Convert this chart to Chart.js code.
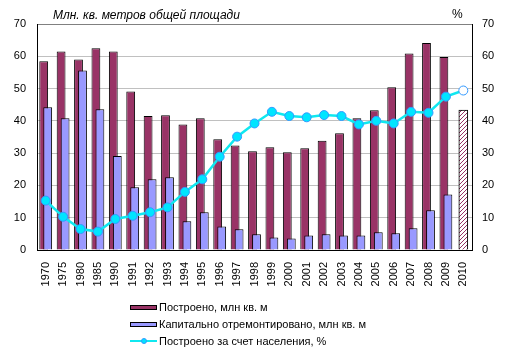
<!DOCTYPE html>
<html>
<head>
<meta charset="utf-8">
<script src="https://cdn.jsdelivr.net/npm/chart.js@4/dist/chart.umd.min.js"></script>
<style>
  html, body { margin: 0; padding: 0; background: #fff; }
  #wrap { position: relative; width: 513px; height: 361px; font-family: "Liberation Sans", Arial, sans-serif; }
  canvas { position: absolute; left: 0; top: 0; }
  .lg { position: absolute; left: 130px; height: 14px; display: flex; align-items: center; font-size: 11px; color: #000; white-space: nowrap; }
  .sw { width: 25px; height: 3px; border: 1px solid #000; margin-right: 2px; }
  .ln { position: relative; width: 27px; height: 14px; margin-right: 2px; }
  .ln i { position: absolute; left: 0; top: 6px; width: 27px; height: 2px; background: #10E8F0; }
  .ln b { position: absolute; left: 11px; top: 4px; width: 4px; height: 4px; border: 1px solid #3399FF; border-radius: 50%; background: #00E5FF; }
</style>
</head>
<body>
<div id="wrap">
  <canvas id="c" width="513" height="361"></canvas>
  <div class="lg" style="top:300px"><span class="sw" style="background:#993366"></span>Построено, млн кв. м</div>
  <div class="lg" style="top:317px"><span class="sw" style="background:#9999FF"></span>Капитально отремонтировано, млн кв. м</div>
  <div class="lg" style="top:334px"><span class="ln"><i></i><b></b></span>Построено за счет населения, %</div>
</div>
<script>
const years = ['1970','1975','1980','1985','1990','1991','1992','1993','1994','1995','1996','1997','1998','1999','2000','2001','2002','2003','2004','2005','2006','2007','2008','2009','2010'];
const built = [58.5,61.5,59.0,62.5,61.5,49.1,41.5,41.7,38.9,40.8,34.3,32.4,30.6,31.8,30.3,31.5,33.8,36.2,40.8,43.3,50.4,60.9,64.1,59.8,null];
const repaired = [44.2,40.8,55.6,43.6,29.1,19.4,21.9,22.5,8.9,11.7,7.3,6.4,4.9,3.9,3.6,4.5,4.9,4.5,4.5,5.5,5.2,6.7,12.3,17.2,null];
const privateShare = [15.3,10.3,6.5,5.7,9.6,10.6,11.7,13.2,18.0,21.9,28.9,35.1,39.2,42.8,41.5,41.1,41.8,41.5,38.9,40.0,39.2,42.8,42.5,47.5,49.4];
const builtForecast = [null,null,null,null,null,null,null,null,null,null,null,null,null,null,null,null,null,null,null,null,null,null,null,null,43.3];
const yTicks = [0,10,20,30,40,50,60,70];
const leftTitle = 'Млн. кв. метров общей площади';
const rightTitle = '%';

// hatch pattern
const pc = document.createElement('canvas');
pc.width = 4; pc.height = 4;
const pctx = pc.getContext('2d');
pctx.fillStyle = '#fff'; pctx.fillRect(0,0,4,4);
pctx.fillStyle = '#993366';
for (let i = 0; i < 4; i++) pctx.fillRect(i, 3 - i, 1, 1);
const hatch = pctx.createPattern(pc, 'repeat');

const FONT = '"Liberation Sans", Arial, sans-serif';
const lastIdx = years.length - 1;

const helper = {
  id: 'helper',
  beforeDatasetDraw(chart, args) {
    if (args.index === 0) return false;
    if (args.index === 1) chart.getDatasetMeta(0).controller.draw();
  },
  afterDraw(chart) {
    const ctx = chart.ctx;
    ctx.save();
    ctx.fillStyle = '#000';
    ctx.textBaseline = 'middle';
    ctx.font = 'italic 12px ' + FONT;
    ctx.textAlign = 'left';
    ctx.fillText(leftTitle, 53, 16);
    ctx.font = '12px ' + FONT;
    ctx.fillText(rightTitle, 452, 15);
    ctx.restore();
  }
};

new Chart(document.getElementById('c'), {
  data: {
    labels: years,
    datasets: [
      { type: 'bar', label: 'Построено, млн кв. м', data: built, backgroundColor: '#993366', borderColor: '#000', borderWidth: 1,
        categoryPercentage: 0.46, barPercentage: 2.2, yAxisID: 'y', order: 0 },
      { type: 'bar', label: 'Капитально отремонтировано, млн кв. м', data: repaired, backgroundColor: '#9999FF', borderColor: '#000', borderWidth: 1,
        categoryPercentage: 0.46, barPercentage: 2.2, yAxisID: 'y', order: 0 },
      { type: 'line', label: 'Построено за счет населения, %', data: privateShare, borderColor: '#10E8F0', borderWidth: 2.5,
        pointRadius: 4.5, pointBorderWidth: 1, pointBorderColor: '#3399FF',
        pointBackgroundColor: c => c.dataIndex === lastIdx ? '#fff' : '#00E5FF',
        tension: 0, yAxisID: 'y2', order: -1 },
      { type: 'bar', label: 'Прогноз', data: builtForecast, backgroundColor: hatch, borderColor: '#000', borderWidth: 1,
        grouped: false, barThickness: 9, yAxisID: 'y', order: 0 }
    ]
  },
  options: {
    responsive: false,
    animation: false,
    layout: { padding: { top: 24, left: 0, right: 0, bottom: 0 } },
    plugins: { legend: { display: false }, tooltip: { enabled: false } },
    scales: {
      x: {
        type: 'category', offset: true,
        grid: { display: false, drawTicks: false },
        border: { color: '#000', width: 1 },
        ticks: { minRotation: 90, maxRotation: 90, padding: 12, color: '#000', font: { family: FONT, size: 11 }, autoSkip: false },
        afterFit: s => { s.height = 111; }
      },
      y: {
        position: 'left', min: 0, max: 70,
        afterBuildTicks: s => { s.ticks = yTicks.map(v => ({ value: v })); },
        grid: { drawTicks: false, color: c => (c.tick && c.tick.value === 70) ? '#808080' : '#c0c0c0' },
        border: { color: '#000', width: 1 },
        ticks: { padding: 11, color: '#000', font: { family: FONT, size: 11 } },
        afterFit: s => { s.width = 37; }
      },
      y2: {
        position: 'right', min: 0, max: 70,
        afterBuildTicks: s => { s.ticks = yTicks.map(v => ({ value: v })); },
        grid: { display: false, drawTicks: false },
        border: { color: '#000', width: 1 },
        ticks: { padding: 10, color: '#000', font: { family: FONT, size: 11 } },
        afterFit: s => { s.width = 41; }
      }
    }
  },
  plugins: [helper]
});
</script>
</body>
</html>
